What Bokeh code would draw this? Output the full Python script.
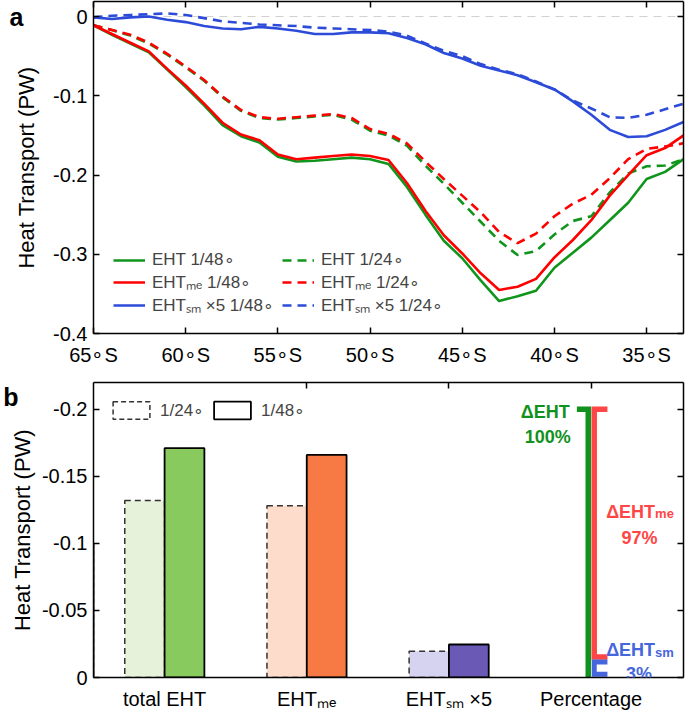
from bokeh.plotting import figure
from bokeh.models import (Range1d, FixedTicker, LinearAxis, Span, Legend, LegendItem,
                          Label, ColumnDataSource, CustomLabelingPolicy)
from bokeh.layouts import column
from bokeh.embed import file_html
from bokeh.resources import INLINE

FONT = "Liberation Sans"

# ---------------- data: panel a ----------------
lat = [-65, -64, -63, -62, -61, -60, -59, -58, -57, -56, -55, -54, -53, -52, -51, -50, -49,
       -48, -47, -46, -45, -44, -43, -42, -41, -40, -39, -38, -37, -36, -35, -34, -33]

eht_48 = [-0.011, -0.023, -0.034, -0.045, -0.067, -0.089, -0.112, -0.137, -0.151, -0.159,
          -0.177, -0.183, -0.182, -0.180, -0.178, -0.180, -0.186, -0.215, -0.250, -0.283,
          -0.305, -0.333, -0.359, -0.353, -0.346, -0.317, -0.298, -0.279, -0.257, -0.235,
          -0.205, -0.196, -0.180]
eht_me_48 = [-0.011, -0.022, -0.033, -0.044, -0.066, -0.087, -0.110, -0.134, -0.149, -0.156,
             -0.174, -0.180, -0.178, -0.176, -0.174, -0.176, -0.181, -0.210, -0.245, -0.276,
             -0.299, -0.324, -0.345, -0.341, -0.331, -0.304, -0.282, -0.257, -0.226, -0.200,
             -0.175, -0.166, -0.150]
eht_sm5_48 = [-0.001, -0.003, -0.001, 0.000, -0.004, -0.007, -0.012, -0.015, -0.016, -0.013,
              -0.015, -0.018, -0.022, -0.022, -0.020, -0.020, -0.021, -0.027, -0.035, -0.046,
              -0.053, -0.062, -0.068, -0.074, -0.083, -0.092, -0.107, -0.124, -0.143, -0.152,
              -0.151, -0.143, -0.133]
eht_24 = [-0.011, -0.017, -0.024, -0.034, -0.048, -0.064, -0.081, -0.102, -0.119, -0.128,
          -0.130, -0.128, -0.126, -0.124, -0.130, -0.144, -0.150, -0.163, -0.188, -0.211,
          -0.235, -0.259, -0.283, -0.301, -0.296, -0.275, -0.258, -0.252, -0.222, -0.198,
          -0.189, -0.188, -0.180]
eht_me_24 = [-0.011, -0.017, -0.023, -0.033, -0.047, -0.063, -0.080, -0.101, -0.118, -0.127,
             -0.129, -0.127, -0.125, -0.123, -0.128, -0.142, -0.148, -0.160, -0.183, -0.205,
             -0.226, -0.247, -0.272, -0.286, -0.274, -0.252, -0.236, -0.225, -0.204, -0.180,
             -0.167, -0.164, -0.160]
eht_sm5_24 = [-0.001, 0.001, 0.002, 0.003, 0.004, 0.002, -0.002, -0.006, -0.008, -0.010,
              -0.011, -0.012, -0.014, -0.015, -0.016, -0.017, -0.019, -0.024, -0.034, -0.043,
              -0.050, -0.060, -0.067, -0.073, -0.082, -0.092, -0.106, -0.116, -0.127, -0.128,
              -0.124, -0.117, -0.110]

xtick_vals = [-65, -60, -55, -50, -45, -40, -35]
xtick_labels = ["65\u2218S", "60\u2218S", "55\u2218S", "50\u2218S", "45\u2218S", "40\u2218S", "35\u2218S"]
ytick_a_vals = [-0.4, -0.3, -0.2, -0.1, 0]
ytick_a_labels = ["-0.4", "-0.3", "-0.2", "-0.1", "0"]

# ---------------- data: panel b ----------------
cat_pos = [1, 2, 3]
cat_ticks = [1, 2, 3, 4]
cat_labels = ["total EHT", "EHT\u2098\u2091", "EHT\u209b\u2098 \u00d75", "Percentage"]
bar_24 = [-0.132, -0.128, -0.0196]
bar_48 = [-0.171, -0.166, -0.0246]
ytick_b_vals = [-0.2, -0.15, -0.1, -0.05, 0]
ytick_b_labels = ["-0.2", "-0.15", "-0.1", "-0.05", "0"]
pct_total = [0, -0.2]          # ΔEHT 100%
pct_me = [-0.0153, -0.2]       # ΔEHTme 97%
pct_sm = [-0.0025, -0.0115]    # ΔEHTsm 3%

GREEN = "#10951c"
RED = "#ff0000"
BLUE = "#2c4bd8"
light = ["#e6f3da", "#fddccb", "#d6d3f0"]
dark = ["#88ca5e", "#f77a45", "#6a5ab5"]
B_GREEN = "#11911d"
B_RED = "#ff4646"
B_BLUE = "#4666de"

NO_LABELS = "for (const i of Array.from(indices)) { indices.unset(i) }"


def style_axis(ax, labels=True, size="20px"):
    ax.axis_line_color = "black"
    ax.axis_line_width = 1.5
    ax.major_tick_line_color = "black"
    ax.major_tick_line_width = 1.5
    ax.major_tick_in = 6
    ax.major_tick_out = 0
    ax.minor_tick_line_color = None
    ax.major_label_text_font = FONT
    ax.major_label_text_font_size = size
    ax.major_label_text_color = "black"
    ax.axis_label_text_font = FONT
    ax.axis_label_text_font_size = "22px"
    ax.axis_label_text_font_style = "normal"
    ax.axis_label_text_color = "black"
    if not labels:
        ax.major_label_text_font_size = "0px"
        ax.major_label_standoff = 0
        ax.major_label_policy = CustomLabelingPolicy(code=NO_LABELS)


def letter_axis(tick, text):
    ax = LinearAxis(ticker=FixedTicker(ticks=[tick]), major_label_overrides={tick: text})
    ax.axis_line_color = None
    ax.major_tick_line_color = None
    ax.minor_tick_line_color = None
    ax.major_tick_in = 0
    ax.major_tick_out = 0
    ax.major_label_standoff = -12
    ax.major_label_text_font = FONT
    ax.major_label_text_font_size = "25px"
    ax.major_label_text_font_style = "bold"
    ax.major_label_text_color = "black"
    return ax


# ================= panel a =================
pa = figure(frame_width=590, frame_height=332, x_range=Range1d(-65, -33),
            y_range=Range1d(-0.4, 0.019), output_backend="svg", toolbar_location=None,
            min_border_left=93, min_border_right=2, min_border_top=1, min_border_bottom=48)
pa.xgrid.visible = False
pa.ygrid.visible = False
pa.outline_line_color = None

xa = pa.xaxis[0]
xa.ticker = FixedTicker(ticks=xtick_vals)
xa.major_label_overrides = dict(zip(xtick_vals, xtick_labels))
style_axis(xa)
xa.major_label_standoff = 10
ya = pa.yaxis[0]
ya.ticker = FixedTicker(ticks=ytick_a_vals)
ya.major_label_overrides = dict(zip(ytick_a_vals, ytick_a_labels))
style_axis(ya)
ya.major_label_standoff = 6
ya.axis_label = "Heat Transport (PW)"
ya.axis_label_standoff = 11
pa.add_layout(letter_axis(0, "a"), "left")

ra = LinearAxis(ticker=FixedTicker(ticks=ytick_a_vals))
style_axis(ra, labels=False)
pa.add_layout(ra, "right")
ta = LinearAxis(ticker=FixedTicker(ticks=xtick_vals))
style_axis(ta, labels=False)
pa.add_layout(ta, "above")

pa.add_layout(Span(location=0, dimension="width", line_color="#cfcfcf", line_dash="8 6",
                   line_width=1, level="underlay"))

DASH = "9 6"
r_g48 = pa.line(lat, eht_48, line_color=GREEN, line_width=2.6)
r_g24 = pa.line(lat, eht_24, line_color=GREEN, line_width=2.6, line_dash=DASH)
r_r48 = pa.line(lat, eht_me_48, line_color=RED, line_width=2.6)
r_r24 = pa.line(lat, eht_me_24, line_color=RED, line_width=2.6, line_dash=DASH)
r_b48 = pa.line(lat, eht_sm5_48, line_color=BLUE, line_width=2.6)
r_b24 = pa.line(lat, eht_sm5_24, line_color=BLUE, line_width=2.6, line_dash=DASH)


def make_legend(items, loc):
    lg = Legend(items=items, location=loc)
    lg.border_line_color = None
    lg.background_fill_alpha = 0
    lg.label_text_font = FONT
    lg.label_text_font_size = "17px"
    lg.glyph_width = 32
    lg.glyph_height = 20
    lg.label_height = 20
    lg.label_standoff = 7
    lg.spacing = 0
    lg.padding = 0
    lg.margin = 0
    return lg


leg1 = make_legend([LegendItem(label="EHT 1/48\u2218", renderers=[r_g48]),
                    LegendItem(label="EHT\u2098\u2091 1/48\u2218", renderers=[r_r48]),
                    LegendItem(label="EHT\u209b\u2098 \u00d75 1/48\u2218", renderers=[r_b48])],
                   (20, 17))
leg2 = make_legend([LegendItem(label="EHT 1/24\u2218", renderers=[r_g24]),
                    LegendItem(label="EHT\u2098\u2091 1/24\u2218", renderers=[r_r24]),
                    LegendItem(label="EHT\u209b\u2098 \u00d75 1/24\u2218", renderers=[r_b24])],
                   (189, 17))
pa.add_layout(leg1)
pa.add_layout(leg2)

# ================= panel b =================
pb = figure(frame_width=590, frame_height=295, x_range=Range1d(0.5, 4.65),
            y_range=Range1d(0, -0.22), output_backend="svg", toolbar_location=None,
            min_border_left=93, min_border_right=2, min_border_top=1, min_border_bottom=34)
pb.xgrid.visible = False
pb.ygrid.visible = False
pb.outline_line_color = None

xb = pb.xaxis[0]
xb.ticker = FixedTicker(ticks=cat_ticks)
xb.major_label_overrides = dict(zip(cat_ticks, cat_labels))
style_axis(xb)
xb.major_tick_in = 0
xb.major_label_standoff = 10
yb = pb.yaxis[0]
yb.ticker = FixedTicker(ticks=ytick_b_vals)
yb.major_label_overrides = dict(zip(ytick_b_vals, ytick_b_labels))
style_axis(yb)
yb.major_label_standoff = 6
yb.axis_label = "Heat Transport (PW)"
yb.axis_label_standoff = 4
pb.add_layout(letter_axis(-0.2115, "b"), "left")

rb = LinearAxis(ticker=FixedTicker(ticks=ytick_b_vals))
style_axis(rb, labels=False)
pb.add_layout(rb, "right")
tb = LinearAxis(ticker=FixedTicker(ticks=[2, 3, 4]))
style_axis(tb, labels=False)
pb.add_layout(tb, "above")

W = 0.28
src24 = ColumnDataSource(data=dict(x=[c - W / 2 for c in cat_pos], top=bar_24, color=light))
src48 = ColumnDataSource(data=dict(x=[c + W / 2 for c in cat_pos], top=bar_48, color=dark))
pb.vbar(x="x", top="top", bottom=0, width=W, source=src24, fill_color="color",
        line_color="#333333", line_dash="6 4", line_width=1.5)
pb.vbar(x="x", top="top", bottom=0, width=W, source=src48, fill_color="color",
        line_color="black", line_width=1.8)

# percentage brackets
pb.multi_line(xs=[[3.90, 3.98, 3.98]], ys=[[pct_total[1], pct_total[1], pct_total[0]]],
              line_color=B_GREEN, line_width=5.5, line_join="miter")
pb.multi_line(xs=[[4.115, 4.022, 4.022, 4.115]],
              ys=[[pct_me[1], pct_me[1], pct_me[0], pct_me[0]]],
              line_color=B_RED, line_width=5.5, line_join="miter")
pb.multi_line(xs=[[4.115, 4.022, 4.022, 4.115]],
              ys=[[pct_sm[1], pct_sm[1], pct_sm[0], pct_sm[0]]],
              line_color=B_BLUE, line_width=5, line_join="miter")

# legend for panel b (swatch renderers sit outside the visible range)
off = ColumnDataSource(data=dict(x=[-10], top=[-0.1]))
d24 = pb.vbar(x="x", top="top", bottom=0, width=W, source=off, fill_color="white",
              line_color="#333333", line_dash="5 3", line_width=1.5)
d48 = pb.vbar(x="x", top="top", bottom=0, width=W, source=off, fill_color="white",
              line_color="black", line_width=1.8)
legb = Legend(items=[LegendItem(label="1/24\u2218", renderers=[d24]),
                     LegendItem(label="1/48\u2218", renderers=[d48])],
              location=(15, 256), orientation="horizontal")
legb.border_line_color = None
legb.background_fill_alpha = 0
legb.label_text_font = FONT
legb.label_text_font_size = "17px"
legb.glyph_width = 46
legb.glyph_height = 22
legb.label_height = 22
legb.label_standoff = 6
legb.spacing = 5
legb.padding = 0
legb.margin = 0
pb.add_layout(legb)


def lab(p, x, y, text, size="18px", align="center", baseline="alphabetic", color="black",
        style="bold"):
    p.add_layout(Label(x=x, y=y, text=text, text_align=align, text_baseline=baseline,
                       text_font=FONT, text_font_size=size, text_font_style=style,
                       text_color=color))


# bracket annotations
lab(pb, 3.677, -0.1982, "\u0394EHT", color=B_GREEN)
lab(pb, 3.695, -0.1795, "100%", color=B_GREEN)
lab(pb, 4.45, -0.1235, "\u0394EHT", align="right", color=B_RED)
lab(pb, 4.45, -0.1222, "me", size="13px", align="left", color=B_RED)
lab(pb, 4.34, -0.104, "97%", color=B_RED)
lab(pb, 4.45, -0.0203, "\u0394EHT", align="right", color=B_BLUE)
lab(pb, 4.45, -0.0190, "sm", size="13px", align="left", color=B_BLUE)
lab(pb, 4.337, -0.0028, "3%", color=B_BLUE)

layout = column(pa, pb, spacing=0)
open("out.html", "w").write(file_html(layout, INLINE))
